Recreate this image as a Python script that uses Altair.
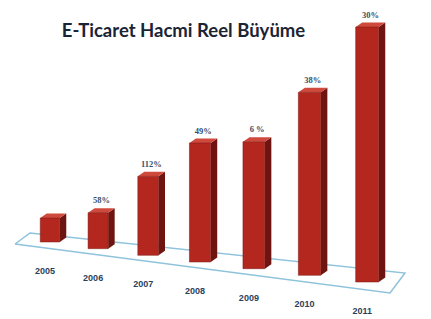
import altair as alt
import pandas as pd

# ---- data ----
years = ["2005", "2006", "2007", "2008", "2009", "2010", "2011"]
volume = [24, 36, 79, 119, 127, 183, 255]          # relative volume (bar height)
growth = ["", "58%", "112%", "49%", "6 %", "38%", "30%"]
title_text = "E-Ticaret Hacmi Reel Büyüme"

# ---- perspective / style constants ----
W, H = 415, 295
STEP, GROW = 47.18, 0.948  # perspective spacing of the categories (px)
DX = 6.5                   # depth offset to the right (px)
DY = 4.5                   # depth offset upwards (px)
BASE0, SLOPE = 69, 6.67    # floor height of first bar and drop per bar

FRONT = "#b3271f"
SIDE = "#6e1511"
TOP = "#cf4a3c"


def cx(i):
    return STEP * i + GROW * i * i


def half_w(i):
    return (19.5 + 0.6 * i) / 2


rows_front, rows_side, rows_top, rows_lab = [], [], [], []
for i, (yr, v, g) in enumerate(zip(years, volume, growth)):
    base = BASE0 - SLOPE * i
    top = base + v
    c = cx(i)
    L, R = c - half_w(i), c + half_w(i)
    rows_front.append(dict(year=yr, x=L, x2=R, y=base, y2=top))
    rows_side += [dict(year=yr, x=R, y=top, y2=base),
                  dict(year=yr, x=R + DX, y=top + DY, y2=base + DY)]
    rows_top += [dict(year=yr, x=L, y=top, y2=top),
                 dict(year=yr, x=L + DX, y=top + DY, y2=top),
                 dict(year=yr, x=R, y=top + DY, y2=top),
                 dict(year=yr, x=R + DX, y=top + DY, y2=top + DY)]
    rows_lab.append(dict(year=yr, pct=g, px=c + DX / 2, py=top + DY + 8,
                         yx=c - 5, yy=base - 29))

front = pd.DataFrame(rows_front)
side = pd.DataFrame(rows_side)
topf = pd.DataFrame(rows_top)
labs = pd.DataFrame(rows_lab)

floor = pd.DataFrame(dict(
    x=[-35, 340, 355, -20, -35],
    y=[67, 18, 38, 78, 67],
    o=[0, 1, 2, 3, 4]))

xs = alt.Scale(domain=[-42, 373], nice=False, zero=False)
ys = alt.Scale(domain=[0, H], nice=False, zero=False)
X = lambda f: alt.X(f, type="quantitative", scale=xs, axis=None)
Y = lambda f: alt.Y(f, type="quantitative", scale=ys, axis=None)

floor_l = alt.Chart(floor).mark_line(color="#8ec3dc", strokeWidth=1.5).encode(
    x=X("x"), y=Y("y"), order="o:Q")

side_l = alt.Chart(side).mark_area(color=SIDE, opacity=1).encode(
    x=X("x"), y=Y("y"), y2="y2", detail="year:N")

top_l = alt.Chart(topf).mark_area(color=TOP, opacity=1).encode(
    x=X("x"), y=Y("y"), y2="y2", detail="year:N")

front_l = alt.Chart(front).mark_rect(color=FRONT, stroke="#7a1a14", strokeWidth=0.5).encode(
    x=X("x"), x2="x2", y=Y("y"), y2="y2")

pct_l = alt.Chart(labs).mark_text(
    font="Liberation Serif", fontSize=8.5, fontWeight="bold", color="#3a4f6a",
    baseline="middle").encode(x=X("px"), y=Y("py"), text="pct:N")

year_l = alt.Chart(labs).mark_text(
    font="Liberation Sans", fontSize=9, fontWeight="bold", color="#2c3f5c",
    baseline="middle").encode(x=X("yx"), y=Y("yy"), text="year:N")

title_l = alt.Chart(pd.DataFrame({"t": [title_text]})).mark_text(
    font="Lato", fontSize=18.5, fontWeight="bold", color="#1b2434").encode(
    x=alt.value(175.5), y=alt.value(15), text="t:N")

chart = alt.layer(floor_l, side_l, top_l, front_l, pct_l, year_l,
                  title_l).properties(
    width=W, height=H,
    padding={"top": 8, "bottom": 8, "left": 0, "right": 0},
    autosize=alt.AutoSizeParams(type="none"),
    background="white").configure_view(stroke=None)

chart.save("out.html", embed_options={"renderer": "svg", "actions": False})
